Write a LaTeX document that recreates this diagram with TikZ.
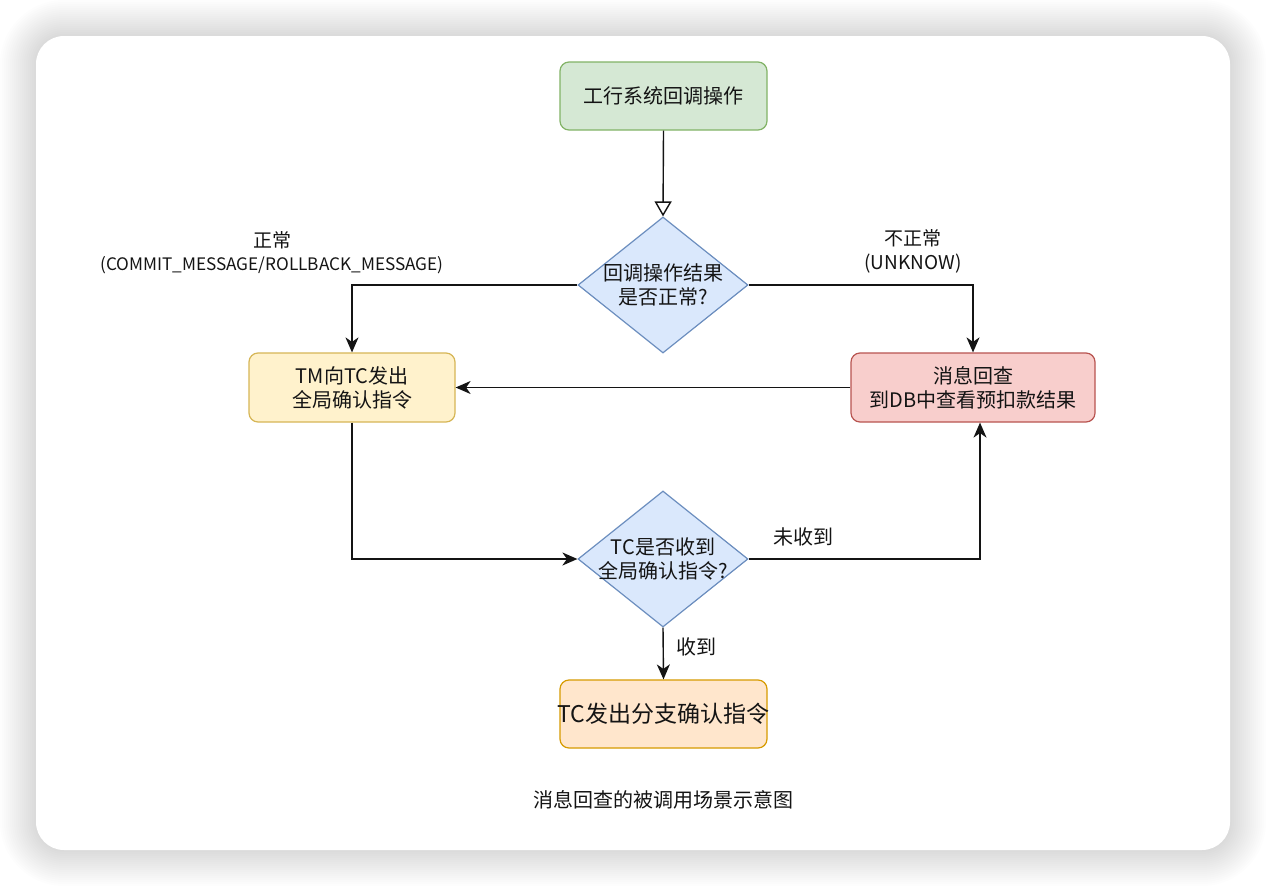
\documentclass[tikz,border=0pt]{standalone}
\usepackage{fontspec}
\setmainfont{Noto Sans CJK SC}
\usetikzlibrary{arrows.meta,shapes.geometric}
\definecolor{gfill}{HTML}{D5E8D4}\definecolor{gline}{HTML}{82B366}
\definecolor{bfill}{HTML}{DAE8FC}\definecolor{bline}{HTML}{6C8EBF}
\definecolor{yfill}{HTML}{FFF2CC}\definecolor{yline}{HTML}{D6B656}
\definecolor{rfill}{HTML}{F8CECC}\definecolor{rline}{HTML}{B85450}
\definecolor{ofill}{HTML}{FFE6CC}\definecolor{oline}{HTML}{D79B00}
\definecolor{ink}{HTML}{141414}
\tikzset{
  txt/.style={font=\fontsize{20}{24}\selectfont, text=ink, align=center, inner sep=0pt},
  box/.style={rectangle, rounded corners=9pt, line width=1.2pt, inner sep=0pt},
  dia/.style={diamond, minimum width=170pt, minimum height=136pt, inner sep=0pt, fill=bfill, draw=bline, line width=1.2pt},
  conn/.style={draw=ink, line width=1.4pt, -{Stealth[length=15pt,width=13pt,inset=4.5pt]}},
  openconn/.style={draw=ink, line width=1.4pt, -{Triangle[open,length=15pt,width=17pt,fill=white]}},
}
\begin{document}
\begin{tikzpicture}[x=1pt,y=-1pt]
\useasboundingbox (0,0) rectangle (1266,886);
\fill[white] (0,0) rectangle (1266,886);
% card shadow
\foreach \i in {1,...,18}{
  \fill[black, opacity=0.009, rounded corners={28+2*\i}] (36-2*\i,36-2*\i) rectangle (1230+2*\i,850+2*\i);
}
\fill[white, rounded corners=28pt] (36,36) rectangle (1230,850);

% nodes
\node[box, fill=gfill, draw=gline, minimum width=207pt, minimum height=68pt] (start) at (663.5,96) {};
\node[txt] at (start.center) {工行系统回调操作};

\node[dia] (d1) at (663,285) {};
\node[txt] at (d1.center) {回调操作结果\\是否正常?};

\node[box, fill=yfill, draw=yline, minimum width=206pt, minimum height=69pt] (tm) at (352,387.5) {};
\node[txt] at (tm.center) {TM向TC发出\\全局确认指令};

\node[box, fill=rfill, draw=rline, minimum width=244pt, minimum height=69pt] (chk) at (973,387.5) {};
\node[txt] at (chk.center) {消息回查\\到DB中查看预扣款结果};

\node[dia] (d2) at (663,559) {};
\node[txt] at (d2.center) {TC是否收到\\全局确认指令?};

\node[box, fill=ofill, draw=oline, minimum width=207pt, minimum height=68pt] (br) at (663.5,714) {};
\node[txt, font=\fontsize{23}{27}\selectfont] at (br.center) {TC发出分支确认指令};

% connectors
\draw[openconn] (start.south) -- (d1.north);
\draw[conn] (d1.west) -| (tm.north);
\draw[conn] (d1.east) -| (chk.north);
\draw[conn] (chk.west) -- (tm.east);
\draw[conn] (tm.south) |- (d2.west);
\coordinate (up) at ([xshift=7pt]chk.south);
\draw[conn] (d2.east) -| (up);
\draw[conn] (d2.south) -- (br.north);

% edge labels
\node[txt, font=\fontsize{19}{23}\selectfont] (l1) at (272,253) {正常\\{\fontsize{17.2}{23}\selectfont (COMMIT\_MESSAGE/ROLLBACK\_MESSAGE)}};
\node[txt, font=\fontsize{19}{24}\selectfont] (l2) at (913,251) {不正常\\(UNKNOW)};
\node[txt] (l3) at (803,537) {未收到};
\node[txt] (l4) at (696,647) {收到};

% caption
\node[txt] (cap) at (663,800) {消息回查的被调用场景示意图};
\end{tikzpicture}
\end{document}
